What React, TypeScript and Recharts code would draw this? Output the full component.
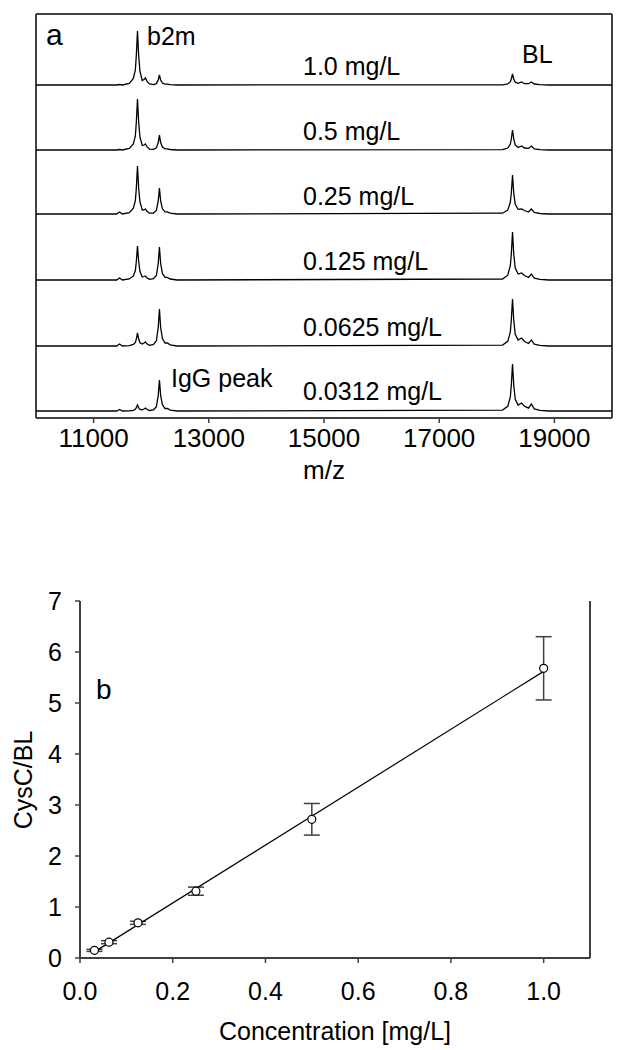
import React from "react";
import {
  ComposedChart,
  Line,
  Scatter,
  ErrorBar,
  XAxis,
  YAxis,
  ReferenceLine,
} from "recharts";

// ---- panel a: MALDI spectra, one m/z grid shared by the six traces ----
const mzGrid = [
  10000, 10600, 11000, 11400, 11450, 11500, 11620, 11690, 11725, 11742, 11762,
  11782, 11805, 11845, 11875, 11900, 11925, 11970, 12040, 12090, 12122, 12143,
  12164, 12195, 12240, 12280, 12330, 12450, 18100, 18190, 18235, 18252, 18273,
  18294, 18320, 18370, 18430, 18480, 18550, 18600, 18650, 18750, 18900, 20000,
];

// intensities (arbitrary units)
const spec1000 = [0, 0, 0, 0, 0.5, 0, 1.6, 6.5, 15, 30, 54, 30, 13.5, 4.5, 5.5, 7, 3.9, 1.1, 0.4, 1.4, 5, 10, 5, 2, 0.8, 0.8, 0.3, 0, 0.2, 1.1, 3.3, 6, 11, 6, 2.8, 1.7, 3, 1.3, 1.3, 3, 1, 0.3, 0, 0];
const spec0500 = [0, 0, 0, 0, 0.5, 0, 1.5, 6, 14, 28, 51, 28, 12.8, 4.5, 5, 6, 3.3, 0.9, 0.6, 2.1, 7.5, 15, 7.5, 3, 1.2, 1.2, 0.5, 0, 0.4, 2, 6, 11, 20, 11, 5, 2.4, 4, 2, 1.6, 4, 1.2, 0.4, 0, 0];
const spec0250 = [0, 0, 0, 0, 2, 0, 1.4, 5.8, 13.4, 26, 48, 26, 12, 4, 4.2, 5, 2.8, 0.8, 1, 3.6, 13, 26, 13, 5.2, 2.1, 2.1, 0.8, 0, 0.8, 3.9, 11.7, 21, 39, 21, 9.8, 4.7, 5, 3.5, 2, 5, 1.5, 0.5, 0, 0];
const spec0125 = [0, 0, 0, 0, 2, 0, 1, 4.1, 9.5, 18.7, 34, 18.7, 8.5, 3, 3.5, 4, 2.2, 0.6, 1.3, 4.6, 16.5, 33, 16.5, 6.6, 2.6, 2.6, 1, 0, 1, 4.8, 14.4, 26, 48, 26, 12, 6, 7, 4.5, 2.5, 6, 1.8, 0.6, 0, 0];
const spec0062 = [0, 0, 0, 0, 2, 0, 0.4, 1.6, 3.6, 7.2, 13, 7.2, 3.3, 2, 3, 4, 2.2, 0.6, 1.5, 5.2, 18.5, 37, 18.5, 7.4, 3, 3, 1.1, 0, 0.9, 4.7, 14, 26, 47, 26, 11.8, 6, 8, 4.5, 2.5, 6, 1.8, 0.6, 0, 0];
const spec0031 = [0, 0, 0, 0, 1.5, 0, 0.2, 0.7, 1.7, 3.3, 6, 3.3, 1.5, 1.2, 2, 3, 1.7, 0.5, 1.2, 4.3, 15.5, 31, 15.5, 6.2, 2.5, 2.5, 0.9, 0, 0.9, 4.7, 14, 26, 47, 26, 11.8, 6, 8, 4.8, 2.8, 7, 2.1, 0.7, 0, 0];

const spectra = [spec1000, spec0500, spec0250, spec0125, spec0062, spec0031];
const concLabels = ["1.0 mg/L", "0.5 mg/L", "0.25 mg/L", "0.125 mg/L", "0.0625 mg/L", "0.0312 mg/L"];
const mzTicks = [11000, 13000, 15000, 17000, 19000];

// ---- panel b: calibration ----
const conc = [0.0312, 0.0625, 0.125, 0.25, 0.5, 1.0];
const ratio = [0.15, 0.31, 0.69, 1.31, 2.72, 5.68];
const ratioSd = [0.02, 0.03, 0.03, 0.08, 0.31, 0.62];
const fitX = [0.0312, 1.0];
const fitY = [0.12, 5.62];
const concTicks = [0, 0.2, 0.4, 0.6, 0.8, 1.0];
const ratioTicks = [0, 1, 2, 3, 4, 5, 6, 7];

// layout
const FONT = "'Liberation Sans', Arial, Helvetica, sans-serif";
const AXIS = "#404040";
const PLOT_H = 404; // panel a plot height in px
const traceBase = [333, 268, 204, 138, 72, 7]; // baseline of each trace above plot bottom
const labelY = [75, 140, 205, 270, 336, 400];

const specRows = mzGrid.map((mz, i) => {
  const row: Record<string, number> = { mz };
  spectra.forEach((s, k) => {
    row[`s${k}`] = s[i];
  });
  return row;
});

const calPoints = conc.map((c, i) => ({ x: c, y: ratio[i], err: ratioSd[i] }));
const fitLine = fitX.map((x, i) => ({ x, y: fitY[i] }));

const txt = { fontFamily: FONT, fill: "#000" };
const frameLine = { stroke: AXIS, strokeWidth: 2 };

const SpectraPanel = () => (
  <ComposedChart
    width={622}
    height={500}
    data={specRows}
    margin={{ top: 14, right: 10, bottom: 22, left: 36 }}
  >
    <XAxis
      dataKey="mz"
      type="number"
      domain={[10000, 20000]}
      ticks={mzTicks}
      allowDataOverflow
      axisLine={frameLine}
      tickLine={{ stroke: AXIS, strokeWidth: 1.5 }}
      tickSize={5}
      tickMargin={6}
      height={60}
      tick={{ fontSize: 26, fontFamily: FONT, fill: "#000" }}
    />
    {spectra.map((_, k) => (
      <YAxis
        key={`ax${k}`}
        yAxisId={`y${k}`}
        hide
        type="number"
        allowDataOverflow
        domain={[-traceBase[k], PLOT_H - traceBase[k]]}
      />
    ))}
    {/* frame: left, right and top edges */}
    <ReferenceLine yAxisId="y0" x={10000} {...frameLine} ifOverflow="visible" />
    <ReferenceLine yAxisId="y0" x={20000} {...frameLine} ifOverflow="visible" />
    <ReferenceLine yAxisId="y0" y={PLOT_H - traceBase[0]} {...frameLine} ifOverflow="visible" />
    {spectra.map((_, k) => (
      <Line
        key={`ln${k}`}
        yAxisId={`y${k}`}
        dataKey={`s${k}`}
        type="linear"
        stroke="#000"
        strokeWidth={1.3}
        dot={false}
        isAnimationActive={false}
      />
    ))}
    <text x={46} y={45} fontSize={30} {...txt}>a</text>
    <text x={147} y={45} fontSize={25} {...txt}>b2m</text>
    <text x={522} y={63} fontSize={25} {...txt}>BL</text>
    <text x={171} y={387} fontSize={25} {...txt}>IgG peak</text>
    {concLabels.map((l, k) => (
      <text key={l} x={303} y={labelY[k]} fontSize={25} {...txt}>
        {l}
      </text>
    ))}
    <text x={324} y={479} fontSize={26} textAnchor="middle" {...txt}>m/z</text>
  </ComposedChart>
);

const Circle = (p: any) => (
  <circle cx={p.cx} cy={p.cy} r={4} fill="#fff" stroke="#000" strokeWidth={1.2} />
);
const NoMark = () => <g />;

const CalibrationPanel = () => (
  <ComposedChart
    width={622}
    height={490}
    margin={{ top: 41, right: 32, bottom: 52, left: 30 }}
  >
    <XAxis
      dataKey="x"
      type="number"
      domain={[0, 1.1]}
      ticks={concTicks}
      allowDataOverflow
      tickFormatter={(v: number) => v.toFixed(1)}
      axisLine={frameLine}
      tickLine={{ stroke: AXIS, strokeWidth: 1.5 }}
      tickSize={5}
      tickMargin={19}
      height={40}
      tick={{ fontSize: 25, fontFamily: FONT, fill: "#000" }}
    />
    <YAxis
      dataKey="y"
      type="number"
      domain={[0, 7]}
      ticks={ratioTicks}
      allowDataOverflow
      axisLine={frameLine}
      tickLine={{ stroke: AXIS, strokeWidth: 1.5 }}
      tickSize={5}
      tickMargin={13}
      width={50}
      tick={{ fontSize: 25, fontFamily: FONT, fill: "#000" }}
    />
    <ReferenceLine x={1.1} stroke={AXIS} strokeWidth={2} ifOverflow="visible" />
    <Scatter data={calPoints} dataKey="y" shape={NoMark} isAnimationActive={false}>
      <ErrorBar dataKey="err" direction="y" width={8} stroke={AXIS} strokeWidth={1.5} />
    </Scatter>
    <Line
      data={fitLine}
      dataKey="y"
      type="linear"
      stroke="#000"
      strokeWidth={1.2}
      dot={false}
      isAnimationActive={false}
    />
    <Scatter data={calPoints} dataKey="y" shape={Circle} isAnimationActive={false} />
    <text x={96} y={139} fontSize={28} {...txt}>b</text>
    <text
      x={32}
      y={220}
      fontSize={25}
      textAnchor="middle"
      transform="rotate(-90 32 220)"
      {...txt}
    >
      CysC/BL
    </text>
    <text x={335} y={480} fontSize={25} textAnchor="middle" {...txt}>
      Concentration [mg/L]
    </text>
  </ComposedChart>
);

export default function App() {
  return (
    <div style={{ position: "absolute", top: 0, left: 0, width: 622, height: 1050, background: "#fff" }}>
      <div style={{ position: "absolute", top: 0, left: 0 }}>
        <SpectraPanel />
      </div>
      <div style={{ position: "absolute", top: 560, left: 0 }}>
        <CalibrationPanel />
      </div>
    </div>
  );
}
